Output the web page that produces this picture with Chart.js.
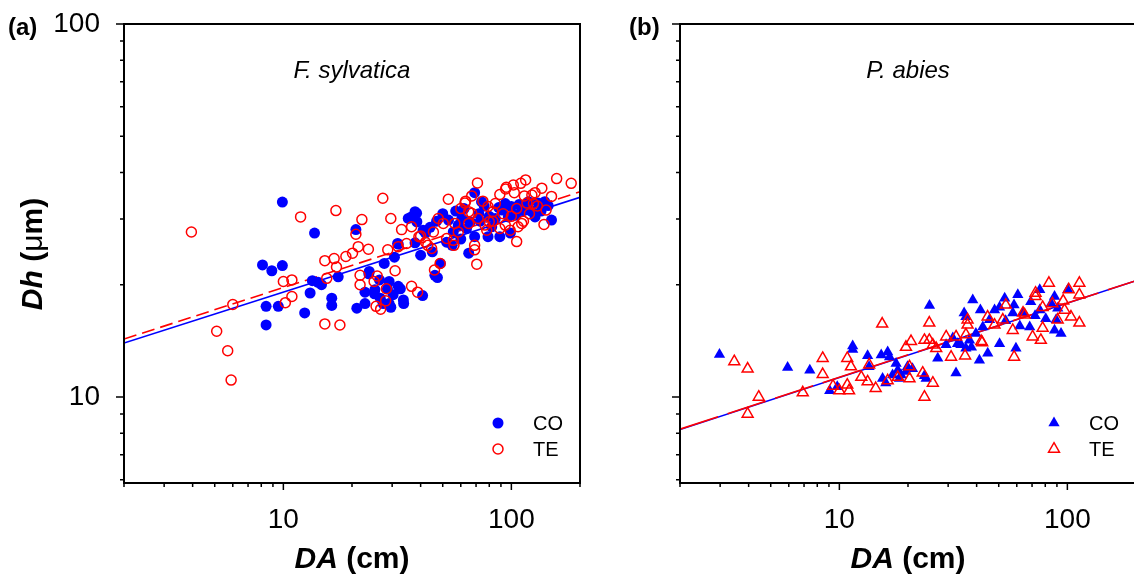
<!DOCTYPE html>
<html><head><meta charset="utf-8">
<script src="https://cdn.jsdelivr.net/npm/chart.js@4.4.1/dist/chart.umd.min.js"></script>
<style>
html,body{margin:0;padding:0;background:#fff;overflow:hidden;width:1134px;height:575px;}
#wrap{position:relative;width:1134px;height:575px;overflow:hidden;font-family:"Liberation Sans",Arial,sans-serif;color:#000;}
canvas{position:absolute;top:0;}
.t{position:absolute;white-space:nowrap;line-height:1;}
.c{text-align:center;}
</style></head><body>
<div id="wrap">
<canvas id="ca" width="600" height="575" style="left:0px"></canvas>
<canvas id="cb" width="600" height="575" style="left:556px"></canvas>
<div class="t" style="left:8px;top:15px;font-weight:bold;font-size:24px">(a)</div>
<div class="t" style="left:629px;top:15px;font-weight:bold;font-size:24px">(b)</div>
<div class="t c" style="left:202px;width:300px;top:58px;font-style:italic;font-size:24px">F. sylvatica</div>
<div class="t c" style="left:758px;width:300px;top:58px;font-style:italic;font-size:24px">P. abies</div>
<div class="t c" style="left:202px;width:300px;top:543px;font-weight:bold;font-size:30px"><i>DA</i> (cm)</div>
<div class="t c" style="left:758px;width:300px;top:543px;font-weight:bold;font-size:30px"><i>DA</i> (cm)</div>
<div class="t c" style="left:-118px;width:300px;top:239px;font-weight:bold;font-size:30px;transform:rotate(-90deg)"><i>Dh</i> (<span style="font-weight:normal">&#956;</span>m)</div>
</div>
<script>
// ---- tick values ----
const xTicks = [2,3,4,5,6,7,8,9,10,20,30,40,50,60,70,80,90,100,200];
const yTicks = [6,7,8,9,10,20,30,40,50,60,70,80,90,100];
const xLabelTicks = [10,100];
const yLabelTicks = [10,100];

// ---- (a) F. sylvatica ----
const fsCO_DA = [8.1,8.9,9.9,9.9,8.4,9.5,8.4,12.4,13.1,13.4,13.7,14.7,14.2,16.3,16.3,17.4,20.8,21.0,22.8,23.8,26.4,27.7,29.1,31.9,30.3,33.6,29.1,26.6,25.2,31.7,35.3,37.8,40.8,38.4,36.4,40.0,37.8,31.9,30.7,47.4,48.8,46.2,47.0,53.0,55.6,58.5,60.6,63.6,65.0,69.0,69.0,73.0,74.0,79.0,82.0,85.0,89.0,91.0,97.0,99.0,100,104,111,119,127,131,140,150,22.8,23.7,25.1,28.6,32.6,27.4,29.6,33.7,42,44,50,52,57,62,66,72,76,80,88,94,108,115,122,135,145,60,45,55,38.5,41];
const fsCO_Dh = [22.6,21.8,22.5,33.3,17.5,17.5,15.6,16.8,19.0,20.5,27.5,20.0,20.3,18.4,17.6,21.0,28.1,17.3,17.8,21.7,20.6,22.8,20.4,19.8,18.8,18.2,17.8,18.4,19.4,25.8,30.1,31.4,18.7,31.1,30.4,24.0,25.9,25.7,23.7,20.9,22.8,21.2,29.6,29.8,27.7,28.9,30.1,28.3,24.3,26.9,35.3,29.6,33.4,26.9,28.6,30.1,26.9,31.7,30.4,27.5,32.4,30.7,31.7,33.4,30.4,33.1,33.4,29.8,19.1,21.4,18.9,19.5,19.5,17.8,17.4,17.8,27.5,28.5,31,26,31.5,32,29.5,31,32.5,30.5,32.2,33,32.8,32,31.5,31.5,32.6,26.5,24.5,25.5,29.5,28];
const fsTE_DA = [3.95,11.9,6.0,5.1,5.7,5.9,10.0,10.9,10.9,10.2,27.3,17.0,22.1,29.6,33.0,20.8,21.3,23.6,28.7,31.9,34.7,18.8,20.1,15.2,16.7,17.1,15.5,21.7,21.7,25.8,25.0,30.9,28.3,28.1,25.5,26.7,36.5,38.8,15.2,17.7,36.5,39.3,71,158,183,110,115.5,52.9,94.4,89,103,67,136,127,123,114,142,139,105.5,70.5,69,69,56,58.5,50.3,47.8,45.5,44.7,46,48.7,62.6,79,83,71.5,76.6,89,94,98.8,111,107,113,117,105.5,67,65,78,83,65,56.5,52,55.6,40,42,43,60,63,75,85,92,100,120,125,130,150,95,102,80];
const fsTE_Dh = [27.7,30.4,17.7,15.0,13.3,11.1,20.4,20.6,18.6,17.9,34.1,31.6,29.9,30.1,28.1,27.3,25.3,24.9,24.8,25.3,25.8,23.8,24.3,23.2,23.5,22.3,20.8,21.2,20.0,21.1,20.4,21.8,19.5,18.1,17.5,17.2,19.8,19.1,15.7,15.6,28.6,26.9,37.5,38.5,37.4,37.4,38.2,33.9,36.1,34.9,35.3,34.6,36.3,35.3,34.8,34.6,31.7,29.0,26.1,22.7,24.8,25.5,25.5,27.7,29.2,30.1,27.7,25.0,21.9,22.8,33.1,32.4,31.4,30.1,28.9,28.3,28.9,28.0,29.2,28.6,29.6,33.1,32.0,31.1,29.2,28.0,29.6,31.4,29.2,26.6,26.3,27,26,25.5,32,33.5,33.5,33,31,30.5,31,33,32.5,34.5,36.5,37.0,29.5];
const fsFit_DA = [2,200];
const fsCO_fit = [13.95,34.3];
const fsTE_fit = [14.3,35.5];

// ---- (b) P. abies ----
const paCO_DA = [2.98,5.93,7.42,9.07,9.79,11.44,11.44,13.3,15.26,16.29,16.6,13.5,15.47,15.98,17.73,18.04,18.66,17.11,19.9,20.93,23.61,24.85,38.46,41.55,35.26,35.88,27.01,32.48,41.14,44.75,50.42,59.49,53.1,60.62,75.68,87.84,100.5,93.8,87.84,68.36,80.4,75.68,69.08,58.35,50.42,47.94,45.57,42.58,37.22,34.13,32.99,35.88,29.38,19.59,18.35,24.02,84.95,57.63,63.92,89.28,31.45,37.94,39.69,53.61,61.86,72.17,90.73];
const paCO_Dh = [13.0,12.0,11.8,10.4,10.65,13.7,13.4,12.9,12.95,13.2,12.8,12.06,11.2,10.9,12.3,11.8,11.45,11.45,12.06,11.9,11.4,17.6,18.2,17.1,16.8,16.4,12.7,11.6,12.55,13.1,13.9,13.5,18.4,18.8,19.4,18.6,19.4,14.8,15.1,15.4,16.2,17.1,18.0,17.65,17.4,17.1,16.1,15.4,14.2,13.8,13.9,13.5,13.8,11.7,11.2,11.2,17.8,16.8,16.8,16.1,14.4,13.6,14.8,16.0,15.5,16.5,17.3];
const paTE_DA = [3.46,3.96,4.43,3.96,6.91,8.45,8.45,9.38,10.0,11.03,10.83,10.83,11.24,12.48,13.51,13.3,14.43,15.41,16.29,18.04,19.59,20.62,20.31,20.31,23.2,23.61,23.61,83.0,112.9,112.9,112.9,101.4,72.5,77.9,86.0,97.2,103.7,90.7,77.9,70.4,76.5,58.4,57.6,53.7,63.9,52.1,47.9,44.7,41.9,36.5,36.5,35.9,32.5,29.4,30.9,24.8,24.8,25.7,26.6,25.7,65.0,72.5,95.9,35.6,42.3];
const paTE_Dh = [12.45,11.9,10.0,9.0,10.27,12.7,11.5,10.7,10.4,10.4,10.77,12.7,12.06,11.3,12.2,10.99,10.55,15.7,11.06,11.3,13.6,14.1,12.06,11.2,11.6,14.2,10.0,20.2,20.2,18.8,15.8,19.4,18.6,17.4,17.8,17.1,16.4,16.1,15.3,14.5,14.2,12.8,15.1,17.65,16.8,16.1,15.6,16.4,14.1,16.1,15.6,14.7,14.5,14.5,12.8,15.8,14.2,13.8,13.5,10.9,16.6,19.0,18.1,12.9,14.0];
const paFit_DA = [2,200];
const paCO_fit = [8.18,20.5];
const paTE_fit = [8.2,20.5];

const BLUE = '#0000ff', RED = '#ff0000';
const FONT = '"Liberation Sans", Arial, sans-serif';
const pts = (xs, ys) => xs.map((x, i) => ({x: x, y: ys[i]}));

function markerPath(ctx, style, x, y, r) {
  ctx.beginPath();
  if (style === 'triangle') {
    let a = 0;
    ctx.moveTo(x + Math.sin(a) * r, y - Math.cos(a) * r);
    a += 2 * Math.PI / 3;
    ctx.lineTo(x + Math.sin(a) * r, y - Math.cos(a) * r);
    a += 2 * Math.PI / 3;
    ctx.lineTo(x + Math.sin(a) * r, y - Math.cos(a) * r);
    ctx.closePath();
  } else {
    ctx.arc(x, y, r, 0, Math.PI * 2);
  }
}

const framePlugin = {
  id: 'frame',
  afterDraw(chart, args, opts) {
    const ctx = chart.ctx, a = chart.chartArea, xs = chart.scales.x, ys = chart.scales.y;
    ctx.save();
    ctx.strokeStyle = '#000';
    ctx.lineWidth = 2;
    ctx.strokeRect(a.left, a.top, a.right - a.left, a.bottom - a.top);
    ctx.lineWidth = 1.5;
    ctx.beginPath();
    xTicks.forEach(v => {
      const p = xs.getPixelForValue(v);
      if (p > a.right + 1) return;
      const L = xLabelTicks.includes(v) ? 7 : 4;
      ctx.moveTo(p, a.bottom); ctx.lineTo(p, a.bottom + L);
    });
    yTicks.forEach(v => {
      const p = ys.getPixelForValue(v);
      const L = yLabelTicks.includes(v) ? 8 : 4;
      ctx.moveTo(a.left, p); ctx.lineTo(a.left - L, p);
    });
    ctx.stroke();
    // legend
    (opts.items || []).forEach((it, i) => {
      const mx = a.left + 374, my = a.top + 399 + i * 26;
      markerPath(ctx, it.style, mx, my, it.r);
      if (it.filled) { ctx.fillStyle = it.color; ctx.fill(); }
      else { ctx.strokeStyle = it.color; ctx.lineWidth = 1.5; ctx.stroke(); }
      ctx.fillStyle = '#000';
      ctx.font = '20px ' + FONT;
      ctx.textBaseline = 'middle';
      ctx.textAlign = 'left';
      ctx.fillText(it.label, a.left + 409, my + 1);
    });
    ctx.restore();
  }
};

function makeChart(id, datasets, showY, legendItems) {
  return new Chart(document.getElementById(id), {
    type: 'scatter',
    data: { datasets: datasets },
    options: {
      responsive: false, animation: false, events: [],
      layout: { padding: { left: 0, top: 24, right: 20, bottom: 0 } },
      plugins: { legend: { display: false }, tooltip: { enabled: false }, frame: { items: legendItems } },
      scales: {
        x: {
          type: 'logarithmic', min: 2, max: 200,
          grid: { display: false, drawTicks: false }, border: { display: false },
          afterBuildTicks: s => { s.ticks = xTicks.map(v => ({ value: v })); },
          afterFit: s => { s.height = 92; s.paddingLeft = 0; s.paddingRight = 0; },
          ticks: { autoSkip: false, maxRotation: 0, minRotation: 0, padding: 20, color: '#000',
            font: { family: FONT, size: 28 },
            callback: v => xLabelTicks.includes(v) ? String(v) : '' }
        },
        y: {
          type: 'logarithmic', min: 5.88, max: 100,
          grid: { display: false, drawTicks: false }, border: { display: false },
          afterBuildTicks: s => { s.ticks = yTicks.map(v => ({ value: v })); },
          afterFit: s => { s.width = 124; s.paddingTop = 0; s.paddingBottom = 0; },
          ticks: { autoSkip: false, padding: 24, color: '#000',
            font: { family: FONT, size: 28 },
            callback: v => (showY && yLabelTicks.includes(v)) ? String(v) : '' }
        }
      }
    },
    plugins: [framePlugin]
  });
}

makeChart('ca', [
  { type: 'line', label: 'CO fit', data: pts(fsFit_DA, fsCO_fit), borderColor: BLUE, borderWidth: 1.6, pointRadius: 0, fill: false, order: 10 },
  { type: 'line', label: 'TE fit', data: pts(fsFit_DA, fsTE_fit), borderColor: RED, borderWidth: 1.6, borderDash: [13, 6], pointRadius: 0, fill: false, order: 9 },
  { label: 'CO', data: pts(fsCO_DA, fsCO_Dh), pointStyle: 'circle', pointRadius: 5.5, backgroundColor: BLUE, borderColor: BLUE, borderWidth: 0, order: 5 },
  { label: 'TE', data: pts(fsTE_DA, fsTE_Dh), pointStyle: 'circle', pointRadius: 5, backgroundColor: 'rgba(0,0,0,0)', borderColor: RED, borderWidth: 1.5, order: 1 }
], true, [
  { label: 'CO', style: 'circle', r: 5.5, color: BLUE, filled: true },
  { label: 'TE', style: 'circle', r: 5, color: RED, filled: false }
]);

makeChart('cb', [
  { type: 'line', label: 'CO fit', data: pts(paFit_DA, paCO_fit), borderColor: BLUE, borderWidth: 1.6, pointRadius: 0, fill: false, order: 10 },
  { type: 'line', label: 'TE fit', data: pts(paFit_DA, paTE_fit), borderColor: RED, borderWidth: 1.6, borderDash: [40, 10], pointRadius: 0, fill: false, order: 9 },
  { label: 'CO', data: pts(paCO_DA, paCO_Dh), pointStyle: 'triangle', pointRadius: 6.5, backgroundColor: BLUE, borderColor: BLUE, borderWidth: 0, order: 5 },
  { label: 'TE', data: pts(paTE_DA, paTE_Dh), pointStyle: 'triangle', pointRadius: 6.3, backgroundColor: 'rgba(0,0,0,0)', borderColor: RED, borderWidth: 1.5, order: 1 }
], false, [
  { label: 'CO', style: 'triangle', r: 6.5, color: BLUE, filled: true },
  { label: 'TE', style: 'triangle', r: 6.3, color: RED, filled: false }
]);
</script>
</body></html>
